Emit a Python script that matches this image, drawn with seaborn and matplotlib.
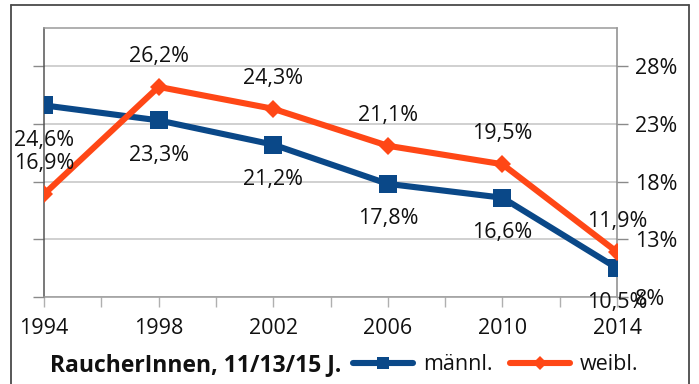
import matplotlib
matplotlib.use("Agg")
import matplotlib.pyplot as plt
from matplotlib.lines import Line2D
import seaborn as sns
import pandas as pd

# Smoking rates of 11/13/15-year-olds by sex
years = [1994, 1998, 2002, 2006, 2010, 2014]
maennl = [24.6, 23.3, 21.2, 17.8, 16.6, 10.5]
weibl = [16.9, 26.2, 24.3, 21.1, 19.5, 11.9]
y_ticks = [8, 13, 18, 23, 28]
y_ticklabels = ["8%", "13%", "18%", "23%", "28%"]
x_ticks = list(range(1994, 2015, 2))
x_ticklabels = ["1994", "", "1998", "", "2002", "", "2006", "", "2010", "", "2014"]
series_names = ["männl.", "weibl."]
legend_title = "RaucherInnen, 11/13/15 J."

BLUE = "#0a4888"
ORANGE = "#ff4716"
FS = 15.5

sns.set_theme(style="white")
plt.rcParams["font.family"] = ["Open Sans", "DejaVu Sans"]

W, H = 699, 384
fig = plt.figure(figsize=(W / 100, H / 100), dpi=100)
ax = fig.add_axes([44 / W, 1 - 297 / H, (617 - 44) / W, (297 - 28) / H])

df_m = pd.DataFrame({"Jahr": years, "Wert": maennl})
df_w = pd.DataFrame({"Jahr": years, "Wert": weibl})

sns.lineplot(data=df_m, x="Jahr", y="Wert", ax=ax, color=BLUE, linewidth=4.4,
             marker="s", markersize=13.5, markeredgewidth=0, zorder=3)
sns.lineplot(data=df_w, x="Jahr", y="Wert", ax=ax, color=ORANGE, linewidth=4.4,
             marker="D", markersize=9.5, markeredgewidth=0, zorder=4)

ax.set_xlim(1994, 2014)
ax.set_ylim(8, 31.3)
ax.set_xlabel("")
ax.set_ylabel("")

# horizontal gridlines
ax.set_yticks(y_ticks)
ax.set_yticklabels(y_ticklabels)
ax.yaxis.grid(True, color="#c4c4c4", linewidth=1.1)
ax.xaxis.grid(False)
ax.set_axisbelow(True)

ax.set_xticks(x_ticks)
ax.set_xticklabels(x_ticklabels)

ax.tick_params(axis="y", left=True, right=True, labelleft=False, labelright=True,
               direction="out", length=8, width=1, color="#8a8a8a",
               labelsize=FS, pad=5, labelcolor="#111111")
ax.tick_params(axis="x", bottom=True, direction="out", length=7, width=1,
               color="#b0b0b0", labelsize=FS, pad=8, labelcolor="#111111")

for side in ["left", "right", "top", "bottom"]:
    ax.spines[side].set_visible(True)
    ax.spines[side].set_linewidth(1.1)
ax.spines["left"].set_color("#555555")
ax.spines["right"].set_color("#8a8a8a")
ax.spines["top"].set_color("#9a9a9a")
ax.spines["bottom"].set_color("#9a9a9a")

# value labels: male below, female above
for x, v in zip(years, maennl):
    ax.annotate(f"{v:.1f}%".replace(".", ","), (x, v), xytext=(0, -25),
                textcoords="offset points", ha="center", va="center",
                fontsize=FS, color="#111111", zorder=5)
for x, v in zip(years, weibl):
    ax.annotate(f"{v:.1f}%".replace(".", ","), (x, v), xytext=(0, 22),
                textcoords="offset points", ha="center", va="center",
                fontsize=FS, color="#111111", zorder=5)

# legend row at the bottom
fig.text(50 / W, 1 - 365 / H, legend_title, fontsize=16.5, fontweight="bold",
         ha="left", va="center", color="#111111")
handles = [
    Line2D([], [], color=BLUE, linewidth=4.4, marker="s", markersize=9, markeredgewidth=0),
    Line2D([], [], color=ORANGE, linewidth=4.4, marker="D", markersize=7, markeredgewidth=0),
]
fig.legend(handles, series_names, loc="center left",
           bbox_to_anchor=(353 / W, 1 - 365 / H), ncol=2, frameon=False,
           fontsize=FS, handlelength=2.8, handletextpad=0.45, columnspacing=0.8,
           borderpad=0, borderaxespad=0, labelcolor="#111111")

# outer frame
frame_kw = dict(color="#4a4a4a", linewidth=1.3, transform=fig.transFigure)
fig.add_artist(Line2D([11 / W, 11 / W], [0, 1 - 5 / H], **frame_kw))
fig.add_artist(Line2D([689 / W, 689 / W], [0, 1 - 5 / H], **frame_kw))
fig.add_artist(Line2D([11 / W, 689 / W], [1 - 5 / H, 1 - 5 / H], **frame_kw))

fig.savefig("out.png", dpi=100)
